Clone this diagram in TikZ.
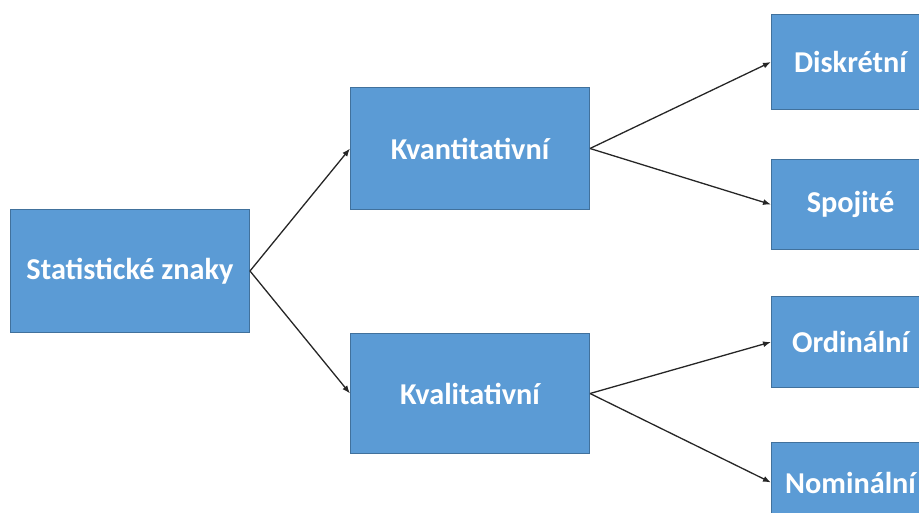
\documentclass[tikz,border=0pt]{standalone}
\usepackage{fontspec}
\setmainfont{Carlito}
\usetikzlibrary{arrows.meta}
\definecolor{boxfill}{HTML}{5B9BD5}
\definecolor{boxline}{HTML}{41719C}
\begin{document}
\begin{tikzpicture}[x=1pt,y=-1pt,
  box/.style={draw=boxline,line width=1pt,fill=boxfill,text=white,
    font=\bfseries\fontsize{30.3}{34}\selectfont,inner sep=0pt,anchor=north west},
  conn/.style={black!85,line width=1.3pt,-{Latex[length=8pt,width=6pt]}}]
\useasboundingbox (0,0) rectangle (919,513);
\clip (0,0) rectangle (919,513);
\node[box,minimum width=239pt,minimum height=123pt] (root) at (10,209) {Statistické znaky};
\node[box,minimum width=239pt,minimum height=122pt] (kvant) at (350,87) {Kvantitativní};
\node[box,minimum width=239pt,minimum height=120pt] (kval) at (350,333) {Kvalitativní};
\node[box,minimum width=158pt,minimum height=95pt] (disk) at (771,14) {Diskrétní};
\node[box,minimum width=158pt,minimum height=90pt] (spoj) at (771,159) {Spojité};
\node[box,minimum width=158pt,minimum height=91pt] (ord) at (771,296) {Ordinální};
\node[box,minimum width=158pt,minimum height=80pt] (nom) at (771,442) {Nominální};
\draw[conn] (root.east) -- (kvant.west);
\draw[conn] (root.east) -- (kval.west);
\draw[conn] (kvant.east) -- (disk.west);
\draw[conn] (kvant.east) -- (spoj.west);
\draw[conn] (kval.east) -- (ord.west);
\draw[conn] (kval.east) -- (nom.west);
\end{tikzpicture}
\end{document}
